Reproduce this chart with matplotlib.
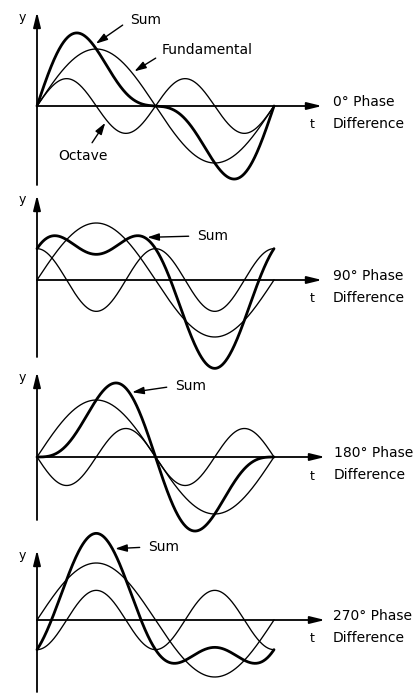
import numpy as np
import matplotlib
matplotlib.use("Agg")
import matplotlib.pyplot as plt

# ---------------- data ----------------
phase_deg = [0, 90, 180, 270]                 # octave phase relative to fundamental
fund_amp = [1.0, 1.0, 1.0, 1.0]               # fundamental amplitude per panel
oct_amp = [0.48, 0.55, 0.5, 0.52]             # octave amplitude per panel
phase_text = ["0° Phase", "90° Phase", "180° Phase", "270° Phase"]
diff_text = "Difference"
sum_label_t = [1.50, 2.85, 2.45, 2.0]         # where the "Sum" arrow touches the curve
periods = 1.0                                  # one fundamental period drawn

t = np.linspace(0, 2 * np.pi * periods, 600)

# ---------------- layout (pixel geometry of the figure) ----------------
W, H = 413, 694
X0_PX = 37.0
PERIOD_PX = 237.0
UNIT_PX = 57.0
SX = PERIOD_PX / (2 * np.pi)                  # px per radian

axis_px = [106, 280, 457, 620]                # x-axis row of each panel
bands = [(0, 175), (175, 355), (355, 530), (530, 694)]
yaxis_top_px = [12, 195, 372, 550]
yaxis_bot_px = [185, 357, 520, 692]
xaxis_end_px = [322, 322, 325, 325]
label_x_px = [333, 333, 334, 333]

fig = plt.figure(figsize=(W / 100, H / 100), dpi=100)
fig.patch.set_facecolor("white")

def dx(px):
    return (px - X0_PX) / SX

FS = 10
for i in range(4):
    top, bot = bands[i]
    ax = fig.add_axes([0, 1 - bot / H, 1, (bot - top) / H])
    ax.set_xlim(-X0_PX / SX, (W - X0_PX) / SX)
    a = axis_px[i]
    ax.set_ylim(-(bot - a) / UNIT_PX, (a - top) / UNIT_PX)
    ax.axis("off")

    def dy(py, a=a):
        return (a - py) / UNIT_PX

    ph = np.deg2rad(phase_deg[i])
    fund = fund_amp[i] * np.sin(t)
    octv = oct_amp[i] * np.sin(2 * t + ph)
    tot = fund + octv

    ax.plot(t, fund, color="black", lw=0.95, clip_on=False)
    ax.plot(t, octv, color="black", lw=0.95, clip_on=False)
    ax.plot(t, tot, color="black", lw=2.0, clip_on=False, solid_capstyle="round")

    # axes with arrows
    ax.annotate("", xy=(0, dy(yaxis_top_px[i])), xytext=(0, dy(yaxis_bot_px[i])),
                arrowprops=dict(arrowstyle="-|>,head_length=0.9,head_width=0.22",
                                lw=1.3, color="black", shrinkA=0, shrinkB=0),
                annotation_clip=False)
    ax.annotate("", xy=(dx(xaxis_end_px[i]), 0), xytext=(0, 0),
                arrowprops=dict(arrowstyle="-|>,head_length=0.9,head_width=0.22",
                                lw=1.3, color="black", shrinkA=0, shrinkB=0),
                annotation_clip=False)

    ax.text(dx(22), dy(yaxis_top_px[i] + 5), "y", fontsize=FS - 1, ha="center", va="center")
    ax.text(dx(312), dy(a + 19), "t", fontsize=FS - 1, ha="center", va="center")
    ax.text(dx(label_x_px[i]), dy(a - 4), phase_text[i], fontsize=FS,
            ha="left", va="center")
    ax.text(dx(label_x_px[i]), dy(a + 18), diff_text, fontsize=FS,
            ha="left", va="center")

    # Sum annotation
    sum_pos = [(130, 20), (197, 236), (175, 386), (148, 547)][i]
    ts = sum_label_t[i]
    ys = fund_amp[i] * np.sin(ts) + oct_amp[i] * np.sin(2 * ts + ph)
    ax.annotate("Sum", xy=(ts, ys), xytext=(dx(sum_pos[0]), dy(sum_pos[1])),
                fontsize=FS, ha="left", va="center",
                arrowprops=dict(arrowstyle="-|>,head_length=0.7,head_width=0.22",
                                lw=1.0, color="black", shrinkA=4, shrinkB=2,
                                relpos=(0, 0.5)),
                annotation_clip=False)

    if i == 0:
        tf = 2.52
        ax.annotate("Fundamental", xy=(tf, fund_amp[0] * np.sin(tf)),
                    xytext=(dx(162), dy(50)), fontsize=FS, ha="left", va="center",
                    arrowprops=dict(arrowstyle="-|>,head_length=0.7,head_width=0.22",
                                    lw=1.0, color="black", shrinkA=3, shrinkB=2,
                                    relpos=(0, 0.2)),
                    annotation_clip=False)
        to = 1.85
        ax.annotate("Octave", xy=(to, oct_amp[0] * np.sin(2 * to)),
                    xytext=(dx(83), dy(156)), fontsize=FS, ha="center", va="center",
                    arrowprops=dict(arrowstyle="-|>,head_length=0.7,head_width=0.22",
                                    lw=1.0, color="black", shrinkA=3, shrinkB=2,
                                    relpos=(0.6, 1.0)),
                    annotation_clip=False)

fig.savefig("out.png", dpi=100, facecolor="white")
